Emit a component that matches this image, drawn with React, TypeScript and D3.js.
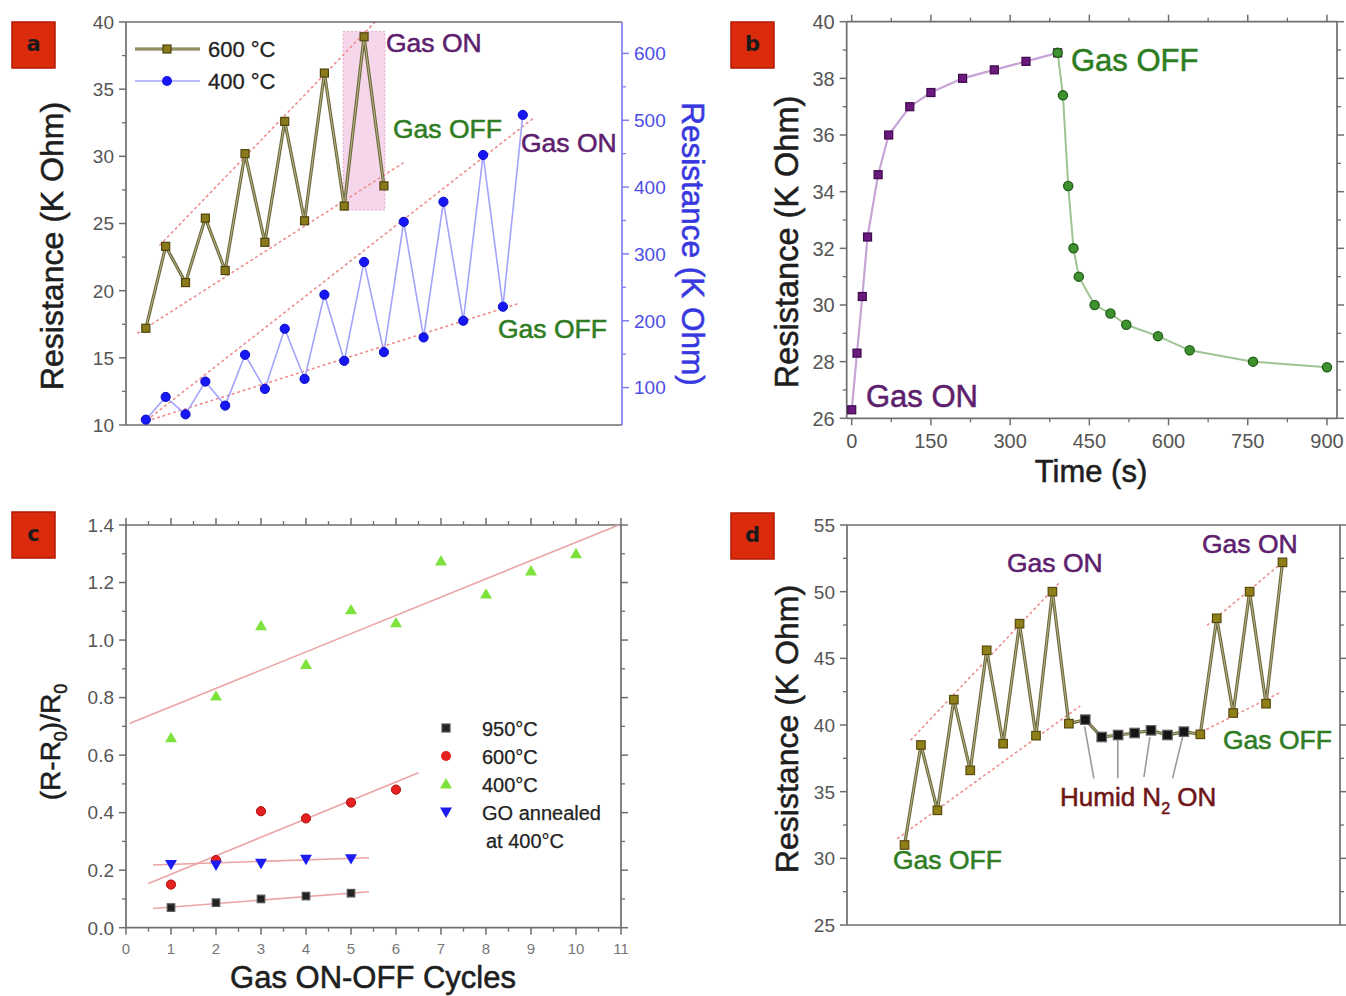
import React from "react";
import * as d3 from "d3";

const FONT = "'Liberation Sans', Arial, Helvetica, sans-serif";
const AXIS = "#6e6e6e";
const TICKTXT = "#555555";
const PURPLE = "#5e1f6e";
const GREEN = "#2f7d22";
const GUIDE = "#ec8c8c";

// ---------------- Panel a data ----------------
const aCycle600 = [1, 2, 3, 4, 5, 6, 7, 8, 9, 10, 11, 12, 13];
const aRes600 = [17.2, 23.3, 20.6, 25.4, 21.5, 30.2, 23.6, 32.6, 25.2, 36.2, 26.3, 38.9, 27.8];
const aCycle400 = [1, 2, 3, 4, 5, 6, 7, 8, 9, 10, 11, 12, 13, 14, 15, 16, 17, 18, 19, 20];
const aRes400 = [52, 86, 60, 109, 73, 149, 98, 188, 113, 239, 140, 288, 153, 348, 175, 378, 200, 448, 221, 508];
const aLeftTicks = [10, 15, 20, 25, 30, 35, 40];
const aRightTicks = [100, 200, 300, 400, 500, 600];
const aGuides600 = [
  [[1.71, 23.4], [12.55, 40.0]],
  [[0.6, 16.85], [13.96, 29.5]],
];
const aGuides400 = [
  [[1.06, 51.5], [20.6, 504.7]],
  [[1.06, 50], [19.86, 226.5]],
];
const aHighlight = { x0: 10.95, x1: 13.05, y0: 26.0, y1: 39.3 };

// ---------------- Panel b data ----------------
const bTimeOn = [0, 10, 20, 30, 50, 70, 110, 150, 210, 270, 330, 390];
const bResOn = [26.3, 28.3, 30.3, 32.4, 34.6, 36.0, 37.0, 37.5, 38.0, 38.3, 38.6, 38.9];
const bTimeOff = [390, 400, 410, 420, 430, 460, 490, 520, 580, 640, 760, 900];
const bResOff = [38.9, 37.4, 34.2, 32.0, 31.0, 30.0, 29.7, 29.3, 28.9, 28.4, 28.0, 27.8];
const bXTicks = [0, 150, 300, 450, 600, 750, 900];
const bYTicks = [26, 28, 30, 32, 34, 36, 38, 40];

// ---------------- Panel c data ----------------
const cCycle950 = [1, 2, 3, 4, 5];
const cResp950 = [0.07, 0.087, 0.1, 0.11, 0.12];
const cCycle600 = [1, 2, 3, 4, 5, 6];
const cResp600 = [0.15, 0.235, 0.405, 0.38, 0.435, 0.48];
const cCycle400 = [1, 2, 3, 4, 5, 6, 7, 8, 9, 10];
const cResp400 = [0.66, 0.805, 1.05, 0.915, 1.105, 1.06, 1.275, 1.16, 1.24, 1.3];
const cCycleGO = [1, 2, 3, 4, 5];
const cRespGO = [0.22, 0.218, 0.224, 0.238, 0.24];
const cFits = [
  [[0.08, 0.71], [10.95, 1.4]],
  [[0.5, 0.154], [6.5, 0.539]],
  [[0.6, 0.218], [5.4, 0.243]],
  [[0.6, 0.067], [5.4, 0.125]],
];
const cXTicks = [0, 1, 2, 3, 4, 5, 6, 7, 8, 9, 10, 11];
const cYTicks = [0, 0.2, 0.4, 0.6, 0.8, 1.0, 1.2, 1.4];
const cLegend = ["950°C", "600°C", "400°C", "GO annealed"];

// ---------------- Panel d data ----------------
const dIndex = [1, 2, 3, 4, 5, 6, 7, 8, 9, 10, 11, 12, 13, 14, 15, 16, 17, 18, 19, 20, 21, 22, 23, 24];
const dRes = [31.0, 38.5, 33.6, 41.9, 36.6, 45.6, 38.6, 47.6, 39.2, 50.0, 40.1, 40.4, 39.1, 39.25, 39.4, 39.6, 39.25, 39.5, 39.3, 48.0, 40.9, 50.0, 41.6, 52.2];
const dPhase = ["gas", "gas", "gas", "gas", "gas", "gas", "gas", "gas", "gas", "gas", "gas", "n2", "n2", "n2", "n2", "n2", "n2", "n2", "gas", "gas", "gas", "gas", "gas", "gas"];
const dYTicks = [25, 30, 35, 40, 45, 50, 55];
const dGuides = [
  [[1.4, 38.9], [10.48, 50.75]],
  [[0.58, 31.5], [11.66, 41.4]],
  [[19.44, 47.5], [24.4, 52.6]],
  [[19.1, 39.5], [23.8, 42.4]],
];
const dPointers = [
  [[11.96, 39.9], [12.52, 36.0]],
  [[13.98, 38.9], [13.98, 36.0]],
  [[15.93, 39.1], [15.57, 36.1]],
  [[17.92, 39.1], [17.31, 36.0]],
];

// ---------------- helpers ----------------
type Lin = d3.ScaleLinear<number, number>;

function mids(arr: number[]) {
  const out: number[] = [];
  for (let i = 0; i < arr.length - 1; i++) out.push((arr[i] + arr[i + 1]) / 2);
  return out;
}

function VAxis(props: {
  x: number; scale: Lin; majors: number[]; minors: number[]; side: "left" | "right";
  color?: string; labels?: boolean; labelColor?: string; fontSize?: number; fmt?: (v: number) => string;
  majorLen?: number; minorLen?: number; gap?: number;
}) {
  const { x, scale, majors, minors, side, color = AXIS, labels = false, labelColor = TICKTXT, fontSize = 19,
    fmt = (v: number) => String(v), majorLen = 7, minorLen = 4, gap = 5 } = props;
  const dir = side === "left" ? -1 : 1;
  const [r0, r1] = scale.range();
  return (
    <g>
      <line x1={x} x2={x} y1={r0} y2={r1} stroke={color} strokeWidth={1.7} />
      {majors.map((v) => (
        <line key={"M" + v} x1={x} x2={x + dir * majorLen} y1={scale(v)} y2={scale(v)} stroke={color} strokeWidth={1.5} />
      ))}
      {minors.map((v) => (
        <line key={"m" + v} x1={x} x2={x + dir * minorLen} y1={scale(v)} y2={scale(v)} stroke={color} strokeWidth={1.3} />
      ))}
      {labels &&
        majors.map((v) => (
          <text key={"t" + v} x={x + dir * (majorLen + gap)} y={scale(v)} dy="0.36em"
            textAnchor={side === "left" ? "end" : "start"} fontSize={fontSize} fill={labelColor} fontFamily={FONT}>
            {fmt(v)}
          </text>
        ))}
    </g>
  );
}

function HAxis(props: {
  y: number; scale: Lin; majors: number[]; minors: number[]; side: "top" | "bottom";
  color?: string; labels?: boolean; labelColor?: string; fontSize?: number; fmt?: (v: number) => string;
  majorLen?: number; minorLen?: number; labelY?: number;
}) {
  const { y, scale, majors, minors, side, color = AXIS, labels = false, labelColor = TICKTXT, fontSize = 19,
    fmt = (v: number) => String(v), majorLen = 7, minorLen = 4, labelY = 0 } = props;
  const dir = side === "top" ? -1 : 1;
  const [r0, r1] = scale.range();
  return (
    <g>
      <line x1={r0} x2={r1} y1={y} y2={y} stroke={color} strokeWidth={1.7} />
      {majors.map((v) => (
        <line key={"M" + v} x1={scale(v)} x2={scale(v)} y1={y} y2={y + dir * majorLen} stroke={color} strokeWidth={1.5} />
      ))}
      {minors.map((v) => (
        <line key={"m" + v} x1={scale(v)} x2={scale(v)} y1={y} y2={y + dir * minorLen} stroke={color} strokeWidth={1.3} />
      ))}
      {labels &&
        majors.map((v) => (
          <text key={"t" + v} x={scale(v)} y={labelY} textAnchor="middle" fontSize={fontSize} fill={labelColor} fontFamily={FONT}>
            {fmt(v)}
          </text>
        ))}
    </g>
  );
}

function Square({ cx, cy, s, fill, stroke }: { cx: number; cy: number; s: number; fill: string; stroke: string }) {
  return <rect x={cx - s / 2} y={cy - s / 2} width={s} height={s} fill={fill} stroke={stroke} strokeWidth={1.2} />;
}

function PanelTag({ x, y, letter }: { x: number; y: number; letter: string }) {
  return (
    <g>
      <rect x={x} y={y} width={43} height={46} fill="#dc2a0c" stroke="#b31a05" strokeWidth={1.5} />
      <text x={x + 21.5} y={y + 29} textAnchor="middle" fontSize={21} fontWeight="bold" fill="#1a1a1a" fontFamily="'DejaVu Sans', sans-serif">
        {letter}
      </text>
    </g>
  );
}

function Guide({ pts, sx, sy }: { pts: number[][]; sx: Lin; sy: Lin }) {
  return (
    <line x1={sx(pts[0][0])} y1={sy(pts[0][1])} x2={sx(pts[1][0])} y2={sy(pts[1][1])}
      stroke={GUIDE} strokeWidth={1.6} strokeDasharray="1.6,4" strokeLinecap="round" />
  );
}

// heavier text helper (slight stroke to mimic the reference's weight)
function T(props: any) {
  const { fill, sw = 0.55, children, ...rest } = props;
  return (
    <text fill={fill} stroke={fill} strokeWidth={sw} fontFamily={FONT} {...rest}>
      {children}
    </text>
  );
}

// ---------------- Panel a ----------------
function PanelA() {
  const x = d3.scaleLinear().domain([0, 25]).range([126, 622]);
  const y = d3.scaleLinear().domain([10, 40]).range([425, 22]);
  const y2 = d3.scaleLinear().domain([44, 647]).range([425, 22]);
  const line600 = d3.line<number>().x((_, i) => x(aCycle600[i])).y((d) => y(d));
  const line400 = d3.line<number>().x((_, i) => x(aCycle400[i])).y((d) => y2(d));
  const blue = "#7f7ff2";
  return (
    <g>
      <rect x={x(aHighlight.x0)} y={y(aHighlight.y1)} width={x(aHighlight.x1) - x(aHighlight.x0)}
        height={y(aHighlight.y0) - y(aHighlight.y1)} fill="#f4cfe6" fillOpacity={0.85} stroke="#e3a6cc" strokeDasharray="2,2" />
      {aGuides600.map((g, i) => <Guide key={"g6" + i} pts={g} sx={x} sy={y} />)}
      {aGuides400.map((g, i) => <Guide key={"g4" + i} pts={g} sx={x} sy={y2} />)}
      <line x1={126} x2={622} y1={22} y2={22} stroke={AXIS} strokeWidth={1.7} />
      <line x1={126} x2={622} y1={425} y2={425} stroke={AXIS} strokeWidth={1.7} />
      <VAxis x={126} scale={y} majors={aLeftTicks} minors={mids(aLeftTicks)} side="left" labels fontSize={19} />
      <VAxis x={622} scale={y2} majors={aRightTicks} minors={[150, 250, 350, 450, 550]} side="right" color={blue}
        labels labelColor="#4d4de6" fontSize={19} />
      <path d={line400(aRes400) || ""} fill="none" stroke="#a3a3fb" strokeWidth={1.6} />
      {aRes400.map((v, i) => (
        <circle key={"b" + i} cx={x(aCycle400[i])} cy={y2(v)} r={4.6} fill="#1717f5" stroke="#0b0bc4" strokeWidth={1} />
      ))}
      <path d={line600(aRes600) || ""} fill="none" stroke="#6c6a3c" strokeWidth={3.2} />
      <path d={line600(aRes600) || ""} fill="none" stroke="#b9b48a" strokeWidth={1} />
      {aRes600.map((v, i) => (
        <Square key={"s" + i} cx={x(aCycle600[i])} cy={y(v)} s={8} fill="#8a7a1c" stroke="#4f440c" />
      ))}
      {/* legend */}
      <line x1={135} x2={200} y1={49} y2={49} stroke="#6c6a3c" strokeWidth={3} />
      <line x1={135} x2={200} y1={49} y2={49} stroke="#b9b48a" strokeWidth={1} />
      <Square cx={167} cy={49} s={8} fill="#8a7a1c" stroke="#4f440c" />
      <T x={208} y={57} fontSize={22} fill="#222" sw={0.3}>600 °C</T>
      <line x1={135} x2={200} y1={81} y2={81} stroke="#a3a3fb" strokeWidth={1.6} />
      <circle cx={167} cy={81} r={5} fill="#1717f5" />
      <T x={208} y={89} fontSize={22} fill="#222" sw={0.3}>400 °C</T>
      {/* annotations */}
      <T x={386} y={52} fontSize={26.5} fill={PURPLE}>Gas ON</T>
      <T x={393} y={138} fontSize={26.5} fill={GREEN}>Gas OFF</T>
      <T x={521} y={152} fontSize={26.5} fill={PURPLE}>Gas ON</T>
      <T x={498} y={338} fontSize={26.5} fill={GREEN}>Gas OFF</T>
      <T transform="translate(63,246) rotate(-90)" textAnchor="middle" fontSize={32} fill="#1e1e1e">
        Resistance (K Ohm)
      </T>
      <T transform="translate(682,244) rotate(90)" textAnchor="middle" fontSize={31.5} fill="#3838e0">
        Resistance (K Ohm)
      </T>
      <PanelTag x={12} y={22} letter="a" />
    </g>
  );
}

// ---------------- Panel b ----------------
function PanelB() {
  const x = d3.scaleLinear().domain([-9.5, 919]).range([846.7, 1337]);
  const y = d3.scaleLinear().domain([26, 40]).range([418.3, 21.7]);
  const lineOn = d3.line<number>().x((_, i) => x(bTimeOn[i])).y((d) => y(d));
  const lineOff = d3.line<number>().x((_, i) => x(bTimeOff[i])).y((d) => y(d));
  const xMinor = mids(bXTicks);
  const yMinor = mids(bYTicks);
  return (
    <g>
      <HAxis y={418.3} scale={x} majors={bXTicks} minors={xMinor} side="bottom" labels labelY={448} fontSize={20} />
      <HAxis y={21.7} scale={x} majors={bXTicks} minors={xMinor} side="top" />
      <VAxis x={846.7} scale={y} majors={bYTicks} minors={yMinor} side="left" labels fontSize={20} />
      <VAxis x={1337} scale={y} majors={bYTicks} minors={yMinor} side="right" />
      <path d={lineOn(bResOn) || ""} fill="none" stroke="#c6a5d6" strokeWidth={2.2} />
      <path d={lineOff(bResOff) || ""} fill="none" stroke="#9fc391" strokeWidth={2} />
      {bResOn.map((v, i) => (
        <Square key={"p" + i} cx={x(bTimeOn[i])} cy={y(v)} s={8} fill="#6a1a7c" stroke="#3e0a4c" />
      ))}
      {bResOff.map((v, i) => (
        <circle key={"g" + i} cx={x(bTimeOff[i])} cy={y(v)} r={4.6} fill="#3f9130" stroke="#1f5f15" strokeWidth={1.3} />
      ))}
      <T x={1071} y={71} fontSize={31} fill={GREEN}>Gas OFF</T>
      <T x={866} y={407} fontSize={31} fill={PURPLE}>Gas ON</T>
      <T x={1091} y={482} textAnchor="middle" fontSize={31} fill="#1e1e1e">Time (s)</T>
      <T transform="translate(798,242) rotate(-90)" textAnchor="middle" fontSize={32.5} fill="#1e1e1e">
        Resistance (K Ohm)
      </T>
      <PanelTag x={731} y={22} letter="b" />
    </g>
  );
}

// ---------------- Panel c ----------------
function PanelC() {
  const x = d3.scaleLinear().domain([0, 11]).range([126, 621]);
  const y = d3.scaleLinear().domain([0, 1.4]).range([927.7, 525]);
  const xMinor = mids(cXTicks);
  const yMinor = mids(cYTicks);
  const tri = d3.symbol().type(d3.symbolTriangle).size(62)() || "";
  const fmtY = (v: number) => v.toFixed(1);
  const legY = [728, 756, 784, 812];
  return (
    <g>
      <HAxis y={927.7} scale={x} majors={cXTicks} minors={xMinor} side="bottom" labels labelY={954} fontSize={15} labelColor="#777" />
      <HAxis y={525} scale={x} majors={cXTicks} minors={xMinor} side="top" />
      <VAxis x={126} scale={y} majors={cYTicks} minors={yMinor} side="left" labels fontSize={19} fmt={fmtY} />
      <VAxis x={621} scale={y} majors={cYTicks} minors={yMinor} side="right" />
      {cFits.map((f, i) => (
        <line key={"f" + i} x1={x(f[0][0])} y1={y(f[0][1])} x2={x(f[1][0])} y2={y(f[1][1])} stroke="#eba4a4" strokeWidth={1.6} />
      ))}
      {cResp400.map((v, i) => (
        <path key={"t" + i} d={tri} transform={`translate(${x(cCycle400[i])},${y(v) + 1})`} fill="#7ee23c" />
      ))}
      {cResp600.map((v, i) => (
        <circle key={"r" + i} cx={x(cCycle600[i])} cy={y(v)} r={4.6} fill="#e42020" stroke="#b01010" strokeWidth={1} />
      ))}
      {cRespGO.map((v, i) => (
        <path key={"d" + i} d={tri} transform={`translate(${x(cCycleGO[i])},${y(v) - 1}) rotate(180)`} fill="#1c1cf0" />
      ))}
      {cResp950.map((v, i) => (
        <Square key={"k" + i} cx={x(cCycle950[i])} cy={y(v)} s={7.5} fill="#222" stroke="#555" />
      ))}
      {/* legend */}
      <Square cx={446} cy={legY[0]} s={8} fill="#222" stroke="#555" />
      <circle cx={446} cy={legY[1]} r={5} fill="#e42020" />
      <path d={tri} transform={`translate(446,${legY[2] + 1})`} fill="#7ee23c" />
      <path d={tri} transform={`translate(446,${legY[3] - 1}) rotate(180)`} fill="#1c1cf0" />
      {cLegend.map((t, i) => (
        <T key={"l" + i} x={482} y={legY[i] + 8} fontSize={20} fill="#222" sw={0.25}>{t}</T>
      ))}
      <T x={486} y={848} fontSize={20} fill="#222" sw={0.25}>at 400°C</T>
      <T transform="translate(60,742) rotate(-90)" textAnchor="middle" fontSize={28} fill="#1e1e1e">
        (R-R<tspan fontSize={18} dy={7}>0</tspan><tspan dy={-7}>)/R</tspan><tspan fontSize={18} dy={7}>0</tspan>
      </T>
      <T x={373} y={988} textAnchor="middle" fontSize={31} fill="#1e1e1e">Gas ON-OFF Cycles</T>
      <PanelTag x={12} y={512} letter="c" />
    </g>
  );
}

// ---------------- Panel d ----------------
function PanelD() {
  const x = d3.scaleLinear().domain([-2.5, 27.5]).range([847, 1340]);
  const y = d3.scaleLinear().domain([25, 55]).range([925, 525]);
  const line = d3.line<number>().x((_, i) => x(dIndex[i])).y((d) => y(d));
  const yMinor = mids(dYTicks);
  return (
    <g>
      {dGuides.map((g, i) => <Guide key={"dg" + i} pts={g} sx={x} sy={y} />)}
      {dPointers.map((p, i) => (
        <line key={"pt" + i} x1={x(p[0][0])} y1={y(p[0][1])} x2={x(p[1][0])} y2={y(p[1][1])} stroke="#9a9a9a" strokeWidth={1.6} />
      ))}
      <line x1={847} x2={1340} y1={525} y2={525} stroke={AXIS} strokeWidth={1.7} />
      <line x1={847} x2={1340} y1={925} y2={925} stroke={AXIS} strokeWidth={1.7} />
      <VAxis x={847} scale={y} majors={dYTicks} minors={yMinor} side="left" labels fontSize={19} />
      <VAxis x={1340} scale={y} majors={dYTicks} minors={yMinor} side="right" />
      <path d={line(dRes) || ""} fill="none" stroke="#6c6a3c" strokeWidth={3.2} />
      <path d={line(dRes) || ""} fill="none" stroke="#b9b48a" strokeWidth={1} />
      {dRes.map((v, i) =>
        dPhase[i] === "gas" ? (
          <Square key={"o" + i} cx={x(dIndex[i])} cy={y(v)} s={8.5} fill="#8f7f18" stroke="#574a0c" />
        ) : (
          <Square key={"n" + i} cx={x(dIndex[i])} cy={y(v)} s={9.5} fill="#151515" stroke="#666" />
        )
      )}
      <T x={1007} y={572} fontSize={26.5} fill={PURPLE}>Gas ON</T>
      <T x={1202} y={553} fontSize={26.5} fill={PURPLE}>Gas ON</T>
      <T x={893} y={869} fontSize={26.5} fill={GREEN}>Gas OFF</T>
      <T x={1223} y={749} fontSize={26.5} fill={GREEN}>Gas OFF</T>
      <T x={1060} y={806} fontSize={26} fill="#6e1616">
        Humid N<tspan fontSize={16} dy={8}>2</tspan><tspan dy={-8}> ON</tspan>
      </T>
      <T transform="translate(798,729) rotate(-90)" textAnchor="middle" fontSize={32} fill="#1e1e1e">
        Resistance (K Ohm)
      </T>
      <PanelTag x={731} y={513} letter="d" />
    </g>
  );
}

export default function App() {
  return (
    <svg width={1346} height={996} viewBox="0 0 1346 996"
      style={{ position: "absolute", left: 0, top: 0, background: "#fff", display: "block" }}>
      <rect x={0} y={0} width={1346} height={996} fill="#fff" />
      <PanelA />
      <PanelB />
      <PanelC />
      <PanelD />
    </svg>
  );
}
